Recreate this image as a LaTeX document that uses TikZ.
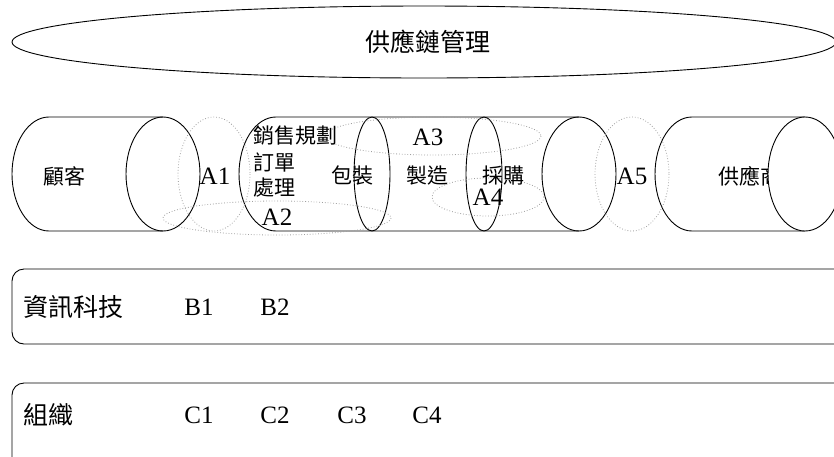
\documentclass[tikz,border=0pt]{standalone}
\usepackage{fontspec}
\setmainfont{Liberation Serif}
\newfontfamily\cjk{Noto Sans CJK TC}
\begin{document}
\begin{tikzpicture}[x=1pt,y=-1pt,
  outl/.style={draw=black,line width=0.9pt},
  dots/.style={draw=gray!75,dotted,line width=0.8pt},
  cjkbig/.style={font=\cjk\fontsize{25}{27}\selectfont,inner sep=0pt},
  cjkmid/.style={font=\cjk\fontsize{21}{23}\selectfont,inner sep=0pt},
  latin/.style={font=\fontsize{25}{27}\selectfont,inner sep=0pt},
  alab/.style={font=\fontsize{25}{27}\selectfont,inner sep=0pt}]
\useasboundingbox (0,0) rectangle (834,456);
% top ellipse
\draw[outl] (424,42) ellipse [x radius=412, y radius=36];
\node[cjkbig] (scm) at (428,42) {供應鏈管理};
% customer cylinder
\draw[outl] (163,117) -- (49,117) arc[start angle=270, end angle=90, x radius=37, y radius=57] -- (163,231);
\draw[outl] (163,174) ellipse [x radius=37, y radius=57];
\node[cjkmid] (cust) at (64,176) {顧客};
% big cylinder
\draw[outl] (579,117) -- (276,117) arc[start angle=270, end angle=90, x radius=37, y radius=57] -- (579,231);
\draw[outl] (372,174) ellipse [x radius=18, y radius=57];
\draw[outl] (484,174) ellipse [x radius=18, y radius=57];
\draw[outl] (579,174) ellipse [x radius=37, y radius=57];
% supplier cylinder
\draw[outl] (805,117) -- (692,117) arc[start angle=270, end angle=90, x radius=37, y radius=57] -- (805,231);
\node[cjkmid,anchor=west] (supp) at (718,176) {供應商};
\draw[outl,fill=white] (805,174) ellipse [x radius=37, y radius=57];
% dotted ellipses
\draw[dots] (214,174) ellipse [x radius=36, y radius=57];
\draw[dots] (632,174) ellipse [x radius=37, y radius=57];
\draw[dots] (277,218) ellipse [x radius=114, y radius=17];
\draw[dots] (433,136) ellipse [x radius=108, y radius=19];
\draw[dots] (488,197) ellipse [x radius=56, y radius=19];
% cylinder texts
\node[cjkmid] (sales) at (295,136) {銷售規劃};
\node[cjkmid] (order) at (274,162) {訂單};
\node[cjkmid] (proc) at (274,188) {處理};
\node[cjkmid] (pack) at (352,176) {包裝};
\node[cjkmid] (manu) at (427,176) {製造};
\node[cjkmid] (purch) at (503,176) {採購};
\node[alab] (a1) at (215,176) {A1};
\node[alab] (a2) at (277,217) {A2};
\node[alab] (a3) at (428,137) {A3};
\node[alab] (a4) at (488,197) {A4};
\node[alab] (a5) at (632,176) {A5};
% bottom rows
\draw[outl] (848,269) -- (24,269) arc[start angle=270, end angle=180, radius=12] -- (12,332) arc[start angle=180, end angle=90, radius=12] -- (848,344);
\draw[outl] (848,383) -- (24,383) arc[start angle=270, end angle=180, radius=12] -- (12,470);
\node[cjkbig,anchor=west] (it) at (23,307) {資訊科技};
\node[latin] (b1) at (199,307) {B1};
\node[latin] (b2) at (275,307) {B2};
\node[cjkbig,anchor=west] (org) at (23,415) {組織};
\node[latin] (c1) at (199,415) {C1};
\node[latin] (c2) at (275,415) {C2};
\node[latin] (c3) at (352,415) {C3};
\node[latin] (c4) at (427,415) {C4};
\end{tikzpicture}
\end{document}
